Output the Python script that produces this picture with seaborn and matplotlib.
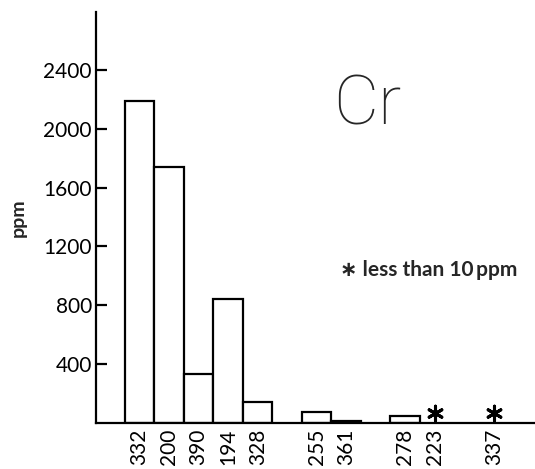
import matplotlib
matplotlib.use("Agg")
import matplotlib.pyplot as plt
import seaborn as sns
import pandas as pd

# Chromium content (ppm) per sample, grouped as they sit along the axis
groups = [
    ["332", "200", "390", "194", "328"],
    ["255", "361"],
    ["278", "223"],
    ["337"],
]
samples = ["332", "200", "390", "194", "328", "255", "361", "278", "223", "337"]
cr_ppm = [2190, 1740, 330, 840, 140, 75, 14, 50, None, None]
below_10 = ["223", "337"]
ytick_values = [400, 800, 1200, 1600, 2000, 2400]
element = "Cr"
note = "\u2217 less than 10\u2009ppm"

sns.set_style("ticks")
plt.rcParams["font.family"] = ["Lato", "DejaVu Sans"]

# category order with empty slots between the groups
order = []
for i, g in enumerate(groups):
    if i:
        order.append(f"_gap{i}")
    order.extend(g)

df = pd.DataFrame({"sample": samples, "ppm": cr_ppm}).dropna()

fig = plt.figure(figsize=(5.35, 4.69), dpi=100)
ax = fig.add_axes([0.1794, 0.0981, 0.8206, 0.8763])

sns.barplot(data=df, x="sample", y="ppm", order=order, color="white",
            saturation=1, edgecolor="black", linewidth=1.6, width=1.0, ax=ax)

# samples below the detection limit get an asterisk instead of a bar
flag = pd.DataFrame({"pos": [order.index(s) for s in below_10],
                     "ppm": [70] * len(below_10)})
sns.scatterplot(data=flag, x="pos", y="ppm", marker=(6, 2, 0), s=110,
                color="black", linewidth=2.2, ax=ax, zorder=5)

ax.set_xlim(-1.48, 13.4)
ax.set_ylim(0, 2794)
sns.despine(ax=ax)
for side in ("left", "bottom"):
    ax.spines[side].set_linewidth(1.6)
    ax.spines[side].set_color("black")

ax.set_yticks(ytick_values)
ax.set_yticklabels([str(v) for v in ytick_values], fontsize=15)
ax.tick_params(axis="y", direction="in", length=8, width=1.6, pad=3, colors="black")

ax.set_xticks([order.index(s) for s in samples])
ax.set_xticklabels(samples, rotation=90, fontsize=15)
ax.tick_params(axis="x", length=0, pad=4, colors="black")

ax.set_xlabel("")
ax.set_ylabel("ppm", fontsize=14, fontweight="bold", labelpad=12)

fig.text(367 / 535, 1 - 106 / 469, element, ha="center", va="center",
         fontsize=50, fontweight="light", family=["Roboto", "DejaVu Sans"])
fig.text(340 / 535, 1 - 270 / 469, note, ha="left", va="center",
         fontsize=15, fontweight="bold")

fig.savefig("out.png", dpi=100, facecolor="white")
